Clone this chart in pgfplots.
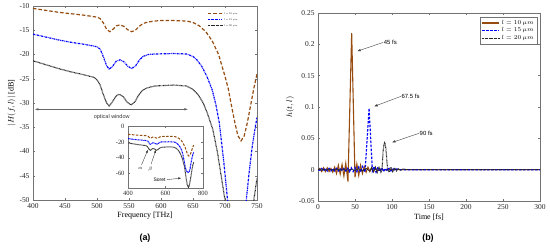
\documentclass[border=0pt]{standalone}
\usepackage{pgfplots}
\pgfplotsset{compat=1.18}
\usepackage{pgfplotstable}
\usetikzlibrary{arrows.meta}
\usepackage{fontspec}
\setmainfont{Liberation Serif}
\setsansfont{Liberation Sans}

\definecolor{brn}{RGB}{150,75,15}
\definecolor{axgray}{gray}{0.45}

\tikzset{
  lA/.style={brn, line width=1.2pt, dash pattern=on 3.5pt off 2pt},
  lB/.style={blue, line width=1.2pt, dash pattern=on 2pt off 0.8pt on 0.6pt off 0.8pt},
  lC/.style={black!85, line width=1.2pt, dash pattern=on 0.7pt off 0.6pt},
}
\newcommand{\tinylab}[1]{\scalebox{0.42}{\fontsize{6}{7}\selectfont$l=#1~\mu m$}}

% |H(f,l)| in dB
\pgfplotstableread{
f db
400 -10.5
420 -10.9
440 -11.3
460 -11.6
480 -11.9
500 -12.3
505 -12.6
510 -13.5
515 -14.8
520 -15.3
525 -14.8
530 -14.1
536 -13.9
542 -14.2
548 -14.9
554 -15.3
560 -15.0
566 -14.2
572 -13.6
580 -13.3
590 -13.1
600 -13.0
620 -13.0
640 -13.1
650 -13.4
660 -14.1
670 -15.3
680 -17.2
690 -20.0
700 -24.5
705 -27.0
710 -30.5
715 -33.8
720 -36.7
725 -37.8
730 -36.8
735 -34.0
740 -30.5
745 -27.0
750 -24.0
}\tabA

\pgfplotstableread{
f db
400 -15.8
420 -16.4
440 -17.0
460 -17.5
480 -17.9
500 -18.4
505 -18.9
510 -20.5
515 -22.3
519 -23.0
524 -22.5
530 -21.4
536 -21.1
542 -21.5
548 -22.4
554 -22.9
560 -22.4
566 -21.2
572 -20.4
580 -20.0
590 -19.9
620 -19.8
640 -19.9
650 -20.4
656 -21.1
664 -22.5
672 -24.6
680 -27.3
686 -30.5
691 -34.0
698 -42.0
704 -50.0
709 -55.0
715 -57.5
721 -58.5
727 -57.0
731 -53.5
734 -49.0
738 -44.0
742 -39.5
746 -36.0
750 -33.0
}\tabB

\pgfplotstableread{
f db
400 -21.3
420 -22.1
440 -22.9
460 -23.6
480 -24.2
495 -24.7
500 -25.2
505 -26.3
510 -28.3
515 -30.0
519 -30.6
524 -29.8
530 -28.5
535 -28.2
541 -28.7
547 -29.8
553 -30.4
559 -29.8
565 -28.4
571 -27.4
578 -26.9
590 -26.5
620 -26.3
640 -26.5
650 -27.2
658 -28.3
666 -30.0
673 -32.3
681 -35.5
688 -40.0
694 -45.0
700 -50.0
705 -57.0
710 -66.0
716 -74.0
722 -77.0
727 -75.0
733 -67.0
739 -58.0
745 -50.0
750 -45.5
}\tabC

% h(t,l)
\pgfplotstableread{
t h
0 0
2.5 0.002
5 -0.003
7.5 0.003
10 -0.003
12.5 0.003
15 -0.003
17.5 0.002
20 -0.004
22.5 0.004
25 -0.006
27.5 0.007
30 -0.007
32.5 0.008
35 -0.010
37.5 0.010
40.5 -0.019
45.5 0.218
50 -0.012
52.5 0.009
55 -0.009
57.5 0.007
60 -0.006
62.5 0.005
65 -0.004
67.5 0.004
70 -0.003
72.5 0.003
75 -0.003
77.5 0.002
80 -0.002
85 0.001
90 -0.001
95 0.001
100 0
300 0
}\tabD

\pgfplotstableread{
t h
0 0
2.5 -0.001
5 0.002
7.5 -0.002
10 0.002
12.5 -0.002
15 0.002
17.5 -0.002
20 0.002
22.5 -0.002
25 0.002
27.5 -0.002
30 0.002
32.5 -0.002
35 0.002
37.5 -0.002
40 0.002
42.5 -0.003
45 0.003
47.5 -0.003
50 0.003
52.5 -0.003
55 0.004
57.5 -0.004
60 0.005
63.5 -0.004
69 0.098
73.5 -0.002
76 0.005
78.5 -0.004
81 0.004
83.5 -0.003
86 0.003
88.5 -0.003
91 0.002
93.5 -0.002
96 0.002
98.5 -0.002
101 0.002
103.5 -0.001
106 0.001
110 0
300 0
}\tabE

\pgfplotstableread{
t h
0 0
2.5 0.001
5 -0.001
7.5 0.001
10 -0.001
15 0.001
20 -0.001
25 0.001
30 -0.001
35 0.001
40 -0.001
45 0.001
50 -0.0015
55 0.0015
60 -0.002
65 0.002
70 -0.002
72.5 0.003
75 -0.003
77.5 0.004
80 -0.004
82.5 0.005
85 -0.004
86.5 0
88 0.030
89 0.040
90 0.043
91 0.040
92 0.030
94 0
96 -0.004
98.5 0.004
101 -0.003
103.5 0.003
106 -0.002
108.5 0.002
111 -0.001
115 0.001
120 0
300 0
}\tabF

\begin{document}
\begin{tikzpicture}[x=1bp,y=1bp]
\path[use as bounding box] (0,0) rectangle (550,248);

\pgfplotsset{
  matlab/.style={
    scale only axis,
    axis line style={axgray, line width=0.5pt},
    tick style={axgray, line width=0.4pt},
    tick align=inside,
    major tick length=2.5pt,
    ticklabel style={font=\fontsize{7.5}{8}\selectfont, color=black!85},
    /pgf/number format/assume math mode=true,
    label style={font=\fontsize{8}{9}\selectfont},
    legend cell align=left,
  },
}

% ---- panel (a)
\begin{axis}[matlab,
  at={(33bp,48bp)}, anchor=south west,
  width=224bp, height=194bp,
  xmin=400, xmax=750, ymin=-50, ymax=-10,
  xtick={400,450,...,750},
  ytick={-50,-45,...,-10},
  xlabel={Frequency [THz]},
  ylabel={$|H(f,l)|$ [dB]},
  xlabel style={yshift=3pt},
  ylabel style={yshift=-3pt},
]
\addplot[lA] table {\tabA};
\addplot[lB] table {\tabB};
\addplot[lC] table {\tabC};

% small legend, top right
\draw[lA, line width=1pt] (rel axis cs:0.781,0.959) -- (rel axis cs:0.845,0.959);
\draw[lB, line width=1pt] (rel axis cs:0.781,0.928) -- (rel axis cs:0.845,0.928);
\draw[lC, line width=1pt] (rel axis cs:0.781,0.897) -- (rel axis cs:0.845,0.897);
\node[anchor=west, inner sep=0pt] at (rel axis cs:0.852,0.959) {\tinylab{10}};
\node[anchor=west, inner sep=0pt] at (rel axis cs:0.852,0.928) {\tinylab{15}};
\node[anchor=west, inner sep=0pt] at (rel axis cs:0.852,0.897) {\tinylab{20}};

\draw[{Latex[length=3.5pt,width=2.5pt]}-{Latex[length=3.5pt,width=2.5pt]}, gray!80!black, line width=0.4pt]
  (axis cs:403,-31.3) -- (axis cs:642,-31.3);
\node[font=\sffamily\fontsize{5.5}{6}\selectfont, text=black!80] at (axis cs:523,-33.0) {optical window};
\end{axis}

% ---- inset
\begin{axis}[matlab,
  at={(128bp,60bp)}, anchor=south west,
  width=75bp, height=62bp,
  axis background/.style={fill=white},
  xmin=400, xmax=800, ymin=-78, ymax=0,
  xtick={400,600,800},
  ytick={-60,-40,-20,0},
  major tick length=1.8pt,
  ticklabel style={font=\fontsize{6.5}{7}\selectfont},
]
\addplot[lA, line width=1.0pt, dash pattern=on 2.5pt off 1.5pt] table {\tabA};
\addplot[lB, line width=1.0pt, dash pattern=on 1.6pt off 0.6pt on 0.5pt off 0.6pt] table {\tabB};
\addplot[lC, line width=1.0pt, dash pattern=on 0.6pt off 0.5pt] table {\tabC};

\draw[-{Latex[length=3pt,width=2.2pt]}, black!80, line width=0.35pt]
  (axis cs:472,-49) -- (axis cs:506,-30);
\draw[-{Latex[length=3pt,width=2.2pt]}, black!80, line width=0.35pt]
  (axis cs:523,-48) -- (axis cs:549,-30);
\node[font=\fontsize{5}{6}\selectfont] at (axis cs:466,-54) {$\alpha$};
\node[font=\fontsize{5}{6}\selectfont] at (axis cs:519,-54) {$\beta$};
\node[font=\sffamily\fontsize{5}{6}\selectfont] at (axis cs:568,-68) {Soret};
\draw[-{Latex[length=3pt,width=2.2pt]}, black!80, line width=0.35pt]
  (axis cs:607,-67.5) -- (axis cs:684,-65.5);
\end{axis}

% ---- panel (b)
\begin{axis}[matlab,
  at={(318bp,47bp)}, anchor=south west,
  width=222bp, height=188bp,
  xmin=0, xmax=300, ymin=-0.05, ymax=0.25,
  xtick={0,50,...,300},
  ytick={-0.05,0,0.05,0.1,0.15,0.2,0.25},
  scaled y ticks=false,
  yticklabel style={/pgf/number format/fixed, /pgf/number format/precision=2},
  xlabel={Time [fs]},
  ylabel={$h(t,l)$},
  xlabel style={yshift=3pt},
  ylabel style={yshift=-2pt},
  legend style={at={(0.986,0.979)}, anchor=north east, draw=axgray, line width=0.4pt,
    font=\fontsize{6}{7}\selectfont, row sep=-2pt, inner sep=1pt},
  legend image code/.code={\draw[#1] (0,0) -- (17bp,0);},
]
\addplot[brn, line width=1.1pt] table {\tabD};
\addplot[blue, line width=1.2pt, dash pattern=on 2.5pt off 1.5pt] table {\tabE};
\addplot[black!85, line width=1.1pt, dash pattern=on 0.7pt off 0.6pt] table {\tabF};
\legend{$l=10~\mu m$, $l=15~\mu m$, $l=20~\mu m$}

\draw[-{Latex[length=3.5pt,width=2.5pt]}, black!75, line width=0.4pt]
  (axis cs:88,0.203) -- (axis cs:53,0.189);
\node[anchor=west, inner sep=0.5pt, font=\sffamily\fontsize{6}{7}\selectfont] at (axis cs:88,0.203) {45 fs};
\draw[-{Latex[length=3.5pt,width=2.5pt]}, black!75, line width=0.4pt]
  (axis cs:112,0.117) -- (axis cs:76,0.101);
\node[anchor=west, inner sep=0.5pt, font=\sffamily\fontsize{6}{7}\selectfont] at (axis cs:112,0.117) {67.5 fs};
\draw[-{Latex[length=3.5pt,width=2.5pt]}, black!75, line width=0.4pt]
  (axis cs:136.5,0.058) -- (axis cs:100,0.0435);
\node[anchor=west, inner sep=0.5pt, font=\sffamily\fontsize{6}{7}\selectfont] at (axis cs:136.5,0.058) {90 fs};
\end{axis}

\node[font=\sffamily\bfseries\fontsize{9}{10}\selectfont] at (145,10) {(a)};
\node[font=\sffamily\bfseries\fontsize{9}{10}\selectfont] at (428,10) {(b)};
\end{tikzpicture}
\end{document}
